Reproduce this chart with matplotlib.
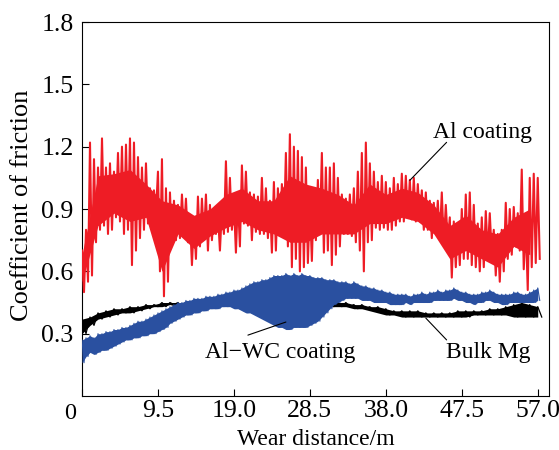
import matplotlib.pyplot as plt
import numpy as np

plt.rcParams['font.family'] = ['Liberation Serif', 'DejaVu Serif']

# sample positions (m) of the envelope readings
dist = np.arange(0, 57.01, 0.5)
dist_mg = np.arange(0, 57.01, 1.0)
dist_core = np.arange(0, 57.01, 2.0)

# Al coating: spike tops / spike bottoms every 0.5 m
al_hi = [0.70, 0.80, 1.22, 1.14, 1.10, 1.24, 1.10, 1.12, 1.08, 1.17,
         1.20, 1.21, 1.24, 1.22, 1.15, 1.10, 1.12, 1.00, 0.99, 1.08,
         1.14, 1.00, 0.98, 0.94, 0.92, 0.97, 0.95, 0.86, 0.85, 0.96,
         0.95, 0.97, 0.92, 0.89, 0.88, 0.90, 1.13, 1.05, 0.93, 0.95,
         1.11, 1.08, 0.98, 0.97, 0.96, 1.05, 1.00, 0.94, 1.03, 1.00,
         1.02, 1.17, 1.26, 1.20, 1.18, 1.15, 1.10, 0.93, 1.00, 1.04,
         1.17, 1.10, 1.10, 1.12, 1.05, 0.97, 0.95, 0.97, 1.00, 1.08,
         1.17, 1.22, 1.12, 1.08, 1.03, 1.06, 1.03, 1.00, 1.05, 1.02,
         1.07, 1.06, 1.04, 1.05, 1.02, 0.99, 0.98, 0.94, 0.93, 0.94,
         0.98, 0.92, 0.86, 0.84, 0.83, 0.90, 0.97, 0.98, 0.92, 0.83,
         0.86, 0.89, 0.88, 0.80, 0.78, 0.80, 0.93, 0.90, 0.91, 0.88,
         1.09, 0.83, 1.05, 1.07, 1.05]
al_lo = [0.50, 0.55, 0.58, 0.74, 0.80, 0.82, 0.78, 0.80, 0.86, 0.84,
         0.78, 0.80, 0.63, 0.70, 0.76, 0.80, 0.83, 0.86, 0.88, 0.60,
         0.48, 0.55, 0.73, 0.75, 0.76, 0.78, 0.74, 0.63, 0.66, 0.72,
         0.76, 0.70, 0.75, 0.78, 0.70, 0.78, 0.79, 0.80, 0.69, 0.72,
         0.83, 0.82, 0.75, 0.79, 0.78, 0.78, 0.76, 0.69, 0.70, 0.78,
         0.78, 0.72, 0.62, 0.66, 0.60, 0.62, 0.64, 0.65, 0.75, 0.79,
         0.69, 0.70, 0.63, 0.68, 0.72, 0.78, 0.78, 0.77, 0.74, 0.70,
         0.60, 0.74, 0.75, 0.81, 0.80, 0.81, 0.80, 0.80, 0.82, 0.84,
         0.84, 0.86, 0.85, 0.84, 0.84, 0.80, 0.80, 0.76, 0.78, 0.76,
         0.73, 0.74, 0.57, 0.62, 0.63, 0.66, 0.66, 0.63, 0.62, 0.60,
         0.62, 0.68, 0.68, 0.58, 0.55, 0.60, 0.66, 0.68, 0.72, 0.70,
         0.61, 0.51, 0.62, 0.64, 0.66]
# Al coating: solid part of the band, every 2 m
al_core_hi = [0.68, 1.06, 1.07, 1.09, 1.02, 0.94, 0.92, 0.87, 0.90, 0.97,
              1.00, 0.94, 0.94, 1.06, 1.02, 1.00, 0.97, 0.92, 1.02, 0.97,
              1.00, 0.98, 0.92, 0.82, 0.87, 0.80, 0.78, 0.86, 0.90]
al_core_lo = [0.55, 0.82, 0.88, 0.84, 0.86, 0.60, 0.78, 0.71, 0.77, 0.81,
              0.84, 0.80, 0.78, 0.74, 0.74, 0.78, 0.78, 0.78, 0.83, 0.83,
              0.86, 0.84, 0.78, 0.66, 0.70, 0.66, 0.62, 0.72, 0.68]

# Al-WC coating
wc_hi = [0.27, 0.28, 0.29, 0.28, 0.30, 0.30, 0.31, 0.31, 0.32, 0.32,
         0.33, 0.33, 0.34, 0.35, 0.36, 0.36, 0.37, 0.38, 0.39, 0.40,
         0.41, 0.42, 0.43, 0.44, 0.45, 0.45, 0.46, 0.46, 0.47, 0.47,
         0.47, 0.48, 0.48, 0.48, 0.49, 0.49, 0.50, 0.50, 0.51, 0.51,
         0.52, 0.53, 0.54, 0.55, 0.55, 0.56, 0.56, 0.57, 0.58, 0.58,
         0.58, 0.59, 0.58, 0.59, 0.58, 0.59, 0.58, 0.58, 0.57, 0.57,
         0.57, 0.56, 0.56, 0.56, 0.55, 0.55, 0.55, 0.54, 0.55, 0.54,
         0.53, 0.53, 0.52, 0.52, 0.51, 0.51, 0.50, 0.50, 0.49, 0.49,
         0.49, 0.49, 0.48, 0.49, 0.49, 0.50, 0.49, 0.50, 0.50, 0.51,
         0.50, 0.51, 0.51, 0.52, 0.51, 0.50, 0.50, 0.49, 0.49, 0.49,
         0.50, 0.50, 0.51, 0.50, 0.49, 0.49, 0.49, 0.49, 0.50, 0.50,
         0.49, 0.49, 0.50, 0.51, 0.52]
wc_lo = [0.16, 0.19, 0.21, 0.20, 0.21, 0.22, 0.22, 0.23, 0.24, 0.25,
         0.26, 0.27, 0.27, 0.28, 0.28, 0.29, 0.29, 0.30, 0.30, 0.31,
         0.32, 0.33, 0.35, 0.36, 0.37, 0.38, 0.39, 0.39, 0.40, 0.40,
         0.41, 0.41, 0.42, 0.42, 0.42, 0.43, 0.43, 0.43, 0.42, 0.42,
         0.41, 0.40, 0.40, 0.39, 0.38, 0.37, 0.36, 0.35, 0.34, 0.33,
         0.33, 0.32, 0.32, 0.33, 0.33, 0.33, 0.33, 0.34, 0.35, 0.36,
         0.38, 0.40, 0.42, 0.44, 0.45, 0.46, 0.47, 0.47, 0.47, 0.47,
         0.46, 0.46, 0.46, 0.45, 0.45, 0.45, 0.45, 0.44, 0.44, 0.44,
         0.44, 0.45, 0.44, 0.45, 0.45, 0.45, 0.45, 0.45, 0.46, 0.46,
         0.46, 0.46, 0.46, 0.47, 0.46, 0.46, 0.45, 0.45, 0.44, 0.45,
         0.45, 0.46, 0.46, 0.45, 0.45, 0.44, 0.44, 0.45, 0.45, 0.45,
         0.45, 0.45, 0.45, 0.45, 0.46]

# Bulk Mg, every 1 m
mg_hi = [0.37, 0.38, 0.40, 0.41, 0.42, 0.42, 0.43, 0.43, 0.44, 0.44,
         0.45, 0.45, 0.45, 0.45, 0.46, 0.45, 0.46, 0.46, 0.46, 0.46,
         0.46, 0.46, 0.46, 0.46, 0.46, 0.46, 0.46, 0.46, 0.46, 0.46,
         0.45, 0.45, 0.45, 0.45, 0.44, 0.44, 0.43, 0.43, 0.42, 0.41,
         0.41, 0.41, 0.41, 0.40, 0.40, 0.40, 0.40, 0.41, 0.41, 0.41,
         0.41, 0.42, 0.42, 0.43, 0.44, 0.45, 0.44, 0.43]
mg_lo = [0.30, 0.34, 0.37, 0.38, 0.39, 0.40, 0.40, 0.41, 0.42, 0.43,
         0.43, 0.44, 0.43, 0.44, 0.44, 0.44, 0.44, 0.45, 0.44, 0.45,
         0.44, 0.45, 0.44, 0.44, 0.44, 0.44, 0.44, 0.44, 0.44, 0.44,
         0.43, 0.43, 0.43, 0.43, 0.42, 0.42, 0.41, 0.40, 0.39, 0.39,
         0.38, 0.38, 0.38, 0.38, 0.38, 0.38, 0.38, 0.38, 0.38, 0.39,
         0.39, 0.39, 0.39, 0.39, 0.38, 0.38, 0.38, 0.38]

xticks = [0, 9.5, 19.0, 28.5, 38.0, 47.5, 57.0]
xticklabels = ['', '9.5', '19.0', '28.5', '38.0', '47.5', '57.0']
yticks = [0.3, 0.6, 0.9, 1.2, 1.5, 1.8]

RED = '#ee1c25'
BLUE = '#2a50a0'


def zigzag(x, hi, lo):
    # alternate between the upper and lower reading to draw the noisy trace
    step = x[1] - x[0]
    xs = np.empty(2 * len(x))
    ys = np.empty(2 * len(x))
    xs[0::2] = x
    xs[1::2] = x + step / 2
    ys[0::2] = hi
    ys[1::2] = lo
    return xs, ys


fig = plt.figure(figsize=(5.59, 4.5), dpi=100)
ax = fig.add_axes([0.1467, 0.12, 0.8353, 0.831])

# Bulk Mg
x, y = zigzag(dist_mg, mg_hi, mg_lo)
ax.fill_between(dist_mg, mg_lo, mg_hi, color='black', lw=0, zorder=2)
ax.plot(x, y, color='black', lw=0.9, zorder=2)

# Al-WC coating
x, y = zigzag(dist, wc_hi, wc_lo)
ax.fill_between(dist, wc_lo, wc_hi, color=BLUE, lw=0, zorder=3)
ax.plot(x, y, color=BLUE, lw=0.8, zorder=3)

# Al coating
x, y = zigzag(dist, al_hi, al_lo)
ax.fill_between(dist_core, al_core_lo, al_core_hi, color=RED, lw=0, zorder=4)
ax.plot(x, y, color=RED, lw=1.5, zorder=4)

ax.set_xlim(0, 58.4)
ax.set_ylim(0, 1.8)
ax.set_xticks(xticks)
ax.set_xticklabels(xticklabels)
ax.set_yticks(yticks)
ax.tick_params(direction='in', length=5, labelsize=18.5)
ax.tick_params(axis='x', pad=3)
ax.tick_params(axis='y', pad=6)
ax.text(-0.012, -0.02, '0', transform=ax.transAxes, ha='right', va='top',
        fontsize=17.5)
ax.set_xlabel('Wear distance/m', fontsize=17, labelpad=5)
ax.set_ylabel('Coefficient of friction', fontsize=19)
ax.yaxis.set_label_coords(-0.105, 0.51)

# labels and their leader lines
ax.text(50.1, 1.27, 'Al coating', fontsize=17, ha='center', va='center')
ax.text(24.75, 0.21, 'Al\u2212WC coating', fontsize=17, ha='center',
        va='center')
ax.text(50.75, 0.21, 'Bulk Mg', fontsize=17, ha='center', va='center')
arrow = dict(arrowstyle='-', lw=0.8, color='black', shrinkA=0, shrinkB=0)
ax.annotate('', xy=(41.0, 1.038), xytext=(45.6, 1.221), arrowprops=arrow,
            zorder=5)
ax.annotate('', xy=(25.5, 0.356), xytext=(20.75, 0.293), arrowprops=arrow,
            zorder=5)
ax.annotate('', xy=(43.0, 0.375), xytext=(45.6, 0.27), arrowprops=arrow,
            zorder=5)

fig.savefig('out.png', dpi=100)
